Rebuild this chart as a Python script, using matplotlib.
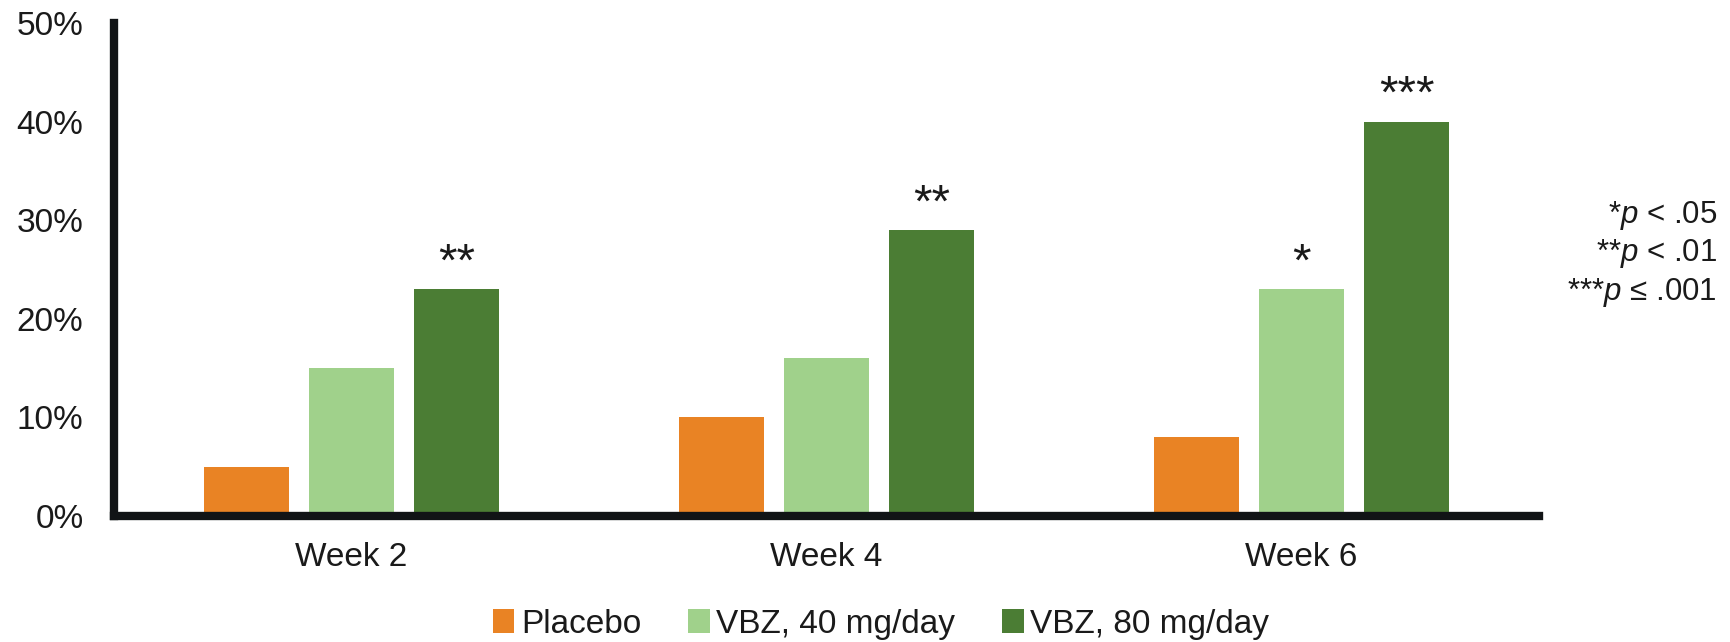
import matplotlib
matplotlib.use("Agg")
import matplotlib.pyplot as plt
import numpy as np
from matplotlib.patches import Patch

plt.rcParams['font.family'] = ['Liberation Sans', 'DejaVu Sans']
plt.rcParams['mathtext.fontset'] = 'custom'
plt.rcParams['mathtext.rm'] = 'Liberation Sans'
plt.rcParams['mathtext.it'] = 'Liberation Sans:italic'

# Response rates by week and treatment arm (%)
weeks = ["Week 2", "Week 4", "Week 6"]
series_names = ["Placebo", "VBZ, 40 mg/day", "VBZ, 80 mg/day"]
placebo = [5, 10, 8]
vbz_40 = [15, 16, 23]
vbz_80 = [23, 29, 40]
# Significance markers vs placebo
stars_40 = ["", "", "*"]
stars_80 = ["**", "**", "***"]
y_ticks = [0, 10, 20, 30, 40, 50]
footnotes = [r"*$p$ < .05", r"**$p$ < .01", r"***$p$ ≤ .001"]

colors = ["#E98324", "#A0D18B", "#4B7D34"]
text_color = "#1a1a1a"
axis_color = "#111416"

fig = plt.figure(figsize=(17.31, 6.42), dpi=100)
ax = fig.add_axes([0.0659, 0.1963, 0.8233, 0.7671])

x = np.arange(len(weeks))
width = 0.18
step = 0.221
all_series = [placebo, vbz_40, vbz_80]
bars = []
for i, (vals, c) in enumerate(zip(all_series, colors)):
    b = ax.bar(x + (i - 1) * step, vals, width=width, color=c, zorder=2)
    bars.append(b)

for rects, marks in ((bars[1], stars_40), (bars[2], stars_80)):
    for r, m in zip(rects, marks):
        if m:
            ax.annotate(m, (r.get_x() + r.get_width() / 2, r.get_height()),
                        xytext=(0, 10), textcoords="offset points",
                        ha="center", va="baseline", fontsize=34,
                        color=text_color)

ax.set_xlim(-0.5, 2.5)
ax.set_ylim(0, 50)
ax.set_yticks(y_ticks)
ax.set_yticklabels([f"{t}%" for t in y_ticks])
ax.set_xticks(x)
ax.set_xticklabels(weeks)
ax.tick_params(axis="y", length=0, pad=22, labelsize=24, labelcolor=text_color)
ax.tick_params(axis="x", length=0, pad=19, labelsize=24, labelcolor=text_color)

for side in ("top", "right"):
    ax.spines[side].set_visible(False)
for side in ("left", "bottom"):
    ax.spines[side].set_linewidth(6)
    ax.spines[side].set_color(axis_color)
    ax.spines[side].set_zorder(3)

handles = [Patch(facecolor=c, edgecolor="none") for c in colors]
fig.legend(handles, series_names, loc="center", bbox_to_anchor=(0.509, 0.028),
           ncol=3, frameon=False, fontsize=24, handlelength=0.65,
           handleheight=0.75, handletextpad=0.2, columnspacing=1.4,
           labelcolor=text_color)

for label, yy in zip(footnotes, [0.6526, 0.5927, 0.5327]):
    fig.text(0.9919, yy, label, ha="right", va="baseline", fontsize=22.5,
             color=text_color)

fig.savefig("out.png", dpi=100)
